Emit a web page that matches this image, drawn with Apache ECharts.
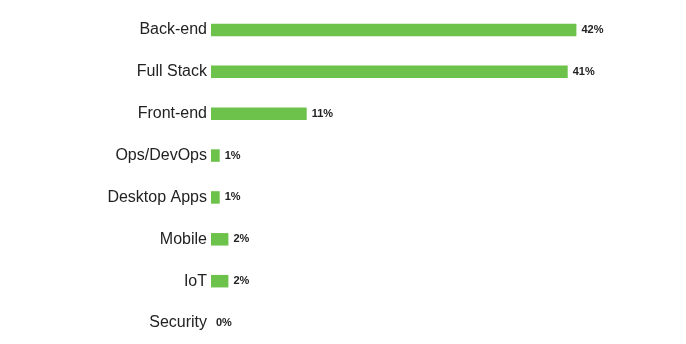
<!DOCTYPE html>
<html><head><meta charset="utf-8">
<script src="https://cdn.jsdelivr.net/npm/echarts@6/dist/echarts.min.js"></script>
<style>html,body{margin:0;padding:0;background:#fff}#c{width:686px;height:344px}</style>
</head><body><div id="c"></div>
<script>
const categories = ["Back-end","Full Stack","Front-end","Ops/DevOps","Desktop Apps","Mobile","IoT","Security"];
const values = [42,41,11,1,1,2,2,0];
const chart = echarts.init(document.getElementById('c'));
chart.setOption({
  animation:false,
  grid:{left:211,top:9,height:336,width:435},
  xAxis:{type:'value',min:0,max:50,show:false},
  yAxis:{type:'category',inverse:true,data:categories,
    axisLine:{show:false},axisTick:{show:false},
    axisLabel:{fontFamily:'Liberation Sans, Arial, sans-serif',fontSize:16,color:'#222',margin:4}},
  series:[{type:'bar',data:values,barWidth:12.5,
    itemStyle:{color:'#6cc24a'},
    label:{show:true,position:'right',distance:5,formatter:'{c}%',
      fontFamily:'Liberation Sans, Arial, sans-serif',fontSize:11,fontWeight:'bold',color:'#222'}}]
});
</script></body></html>
